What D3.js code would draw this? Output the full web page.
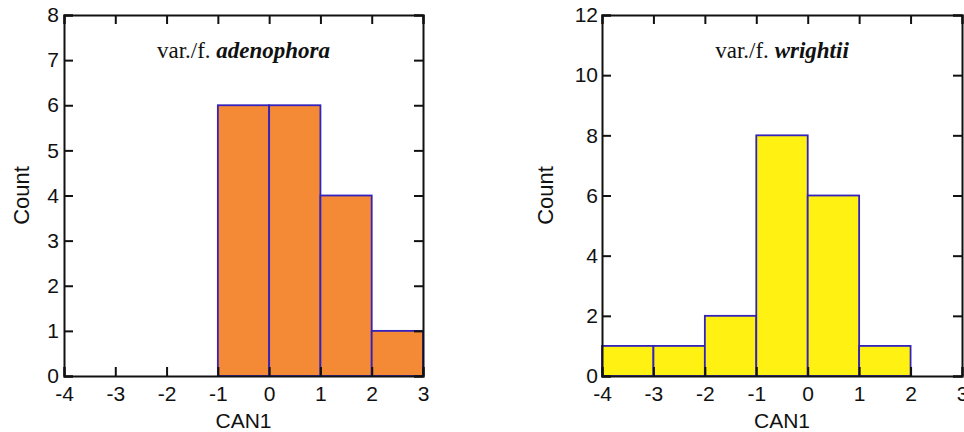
<!DOCTYPE html>
<html>
<head>
<meta charset="utf-8">
<script src="https://cdn.jsdelivr.net/npm/d3@7"></script>
<style>
body { margin: 0; background: #fff; }
text { font-family: "Liberation Sans", Arial, sans-serif; }
</style>
</head>
<body>
<script>
// bin edges on CAN1
let binEdges = [-4, -3, -2, -1, 0, 1, 2, 3]
let xTicks = [-4, -3, -2, -1, 0, 1, 2, 3]

// counts per bin (same order as binEdges)
let adenophoraCounts = [0, 0, 0, 6, 6, 4, 1]
let wrightiiCounts = [1, 1, 2, 8, 6, 1, 0]

let adenophoraTicks = [0, 1, 2, 3, 4, 5, 6, 7, 8]
let wrightiiTicks = [0, 2, 4, 6, 8, 10, 12]

let width = 964
let height = 432
let svg = d3.select('body').append('svg')
    .attr('width', width)
    .attr('height', height)

function panel(opt) {
    let x = d3.scaleLinear().domain([-4, 3]).range([opt.left, opt.right])
    let y = d3.scaleLinear().domain([0, opt.ymax]).range([376, 15])
    let g = svg.append('g')

    let bins = opt.counts.map((c, i) => ({x0: binEdges[i], x1: binEdges[i + 1], c: c}))
        .filter(d => d.c > 0)
    g.selectAll('rect.bar').data(bins)
        .enter()
        .append('rect')
        .attr('class', 'bar')
        .attr('x', d => x(d.x0))
        .attr('y', d => y(d.c))
        .attr('width', d => x(d.x1) - x(d.x0))
        .attr('height', d => y(0) - y(d.c))
        .attr('fill', opt.fill)
        .attr('stroke', '#3322bb')
        .attr('stroke-width', 1.8)

    let tl = 9
    let fmt = d => String(d)
    // axes with inward ticks on all four sides
    g.append('g').attr('transform', `translate(0,${y(0)})`)
        .call(d3.axisBottom(x).tickValues(xTicks).tickSize(-tl).tickFormat(fmt))
        .selectAll('.tick text').attr('y', 10)
    g.append('g').attr('transform', `translate(0,${y(opt.ymax)})`)
        .call(d3.axisTop(x).tickValues(xTicks).tickSize(-tl).tickFormat(''))
    g.append('g').attr('transform', `translate(${x(-4)},0)`)
        .call(d3.axisLeft(y).tickValues(opt.yTicks).tickSize(-tl).tickFormat(fmt))
        .selectAll('.tick text').attr('x', -opt.ypad)
    g.append('g').attr('transform', `translate(${x(3)},0)`)
        .call(d3.axisRight(y).tickValues(opt.yTicks).tickSize(-tl).tickFormat(''))

    g.selectAll('.domain').attr('stroke', '#111').attr('stroke-width', 2)
    g.selectAll('.tick line').attr('stroke', '#111').attr('stroke-width', 2)
    g.selectAll('.tick text')
        .attr('fill', '#111')
        .style('font-size', '21px')
        .style('font-family', '"Liberation Sans", Arial, sans-serif')

    let cx = (opt.left + opt.right) / 2
    g.append('text')
        .attr('x', cx).attr('y', 428)
        .attr('text-anchor', 'middle')
        .style('font-size', '21px')
        .attr('fill', '#111')
        .text('CAN1')
    g.append('text')
        .attr('transform', `translate(${opt.left - opt.countOff},${(15 + 376) / 2}) rotate(-90)`)
        .attr('text-anchor', 'middle')
        .style('font-size', '22px')
        .attr('fill', '#111')
        .text('Count')

    let t = g.append('text')
        .attr('x', cx).attr('y', 58)
        .attr('text-anchor', 'middle')
        .style('font-family', '"Liberation Serif", "Times New Roman", serif')
        .style('font-size', '23px')
        .attr('fill', '#111')
    t.append('tspan').text('var./f. ')
    t.append('tspan').attr('font-weight', 'bold').attr('font-style', 'italic').text(opt.name)
}

panel({left: 64, right: 423, ymax: 8, yTicks: adenophoraTicks, counts: adenophoraCounts,
    fill: '#f48a36', name: 'adenophora', ypad: 5, countOff: 35})
panel({left: 602, right: 962, ymax: 12, yTicks: wrightiiTicks, counts: wrightiiCounts,
    fill: '#fff212', name: 'wrightii', ypad: 4, countOff: 49})
</script>
</body>
</html>
